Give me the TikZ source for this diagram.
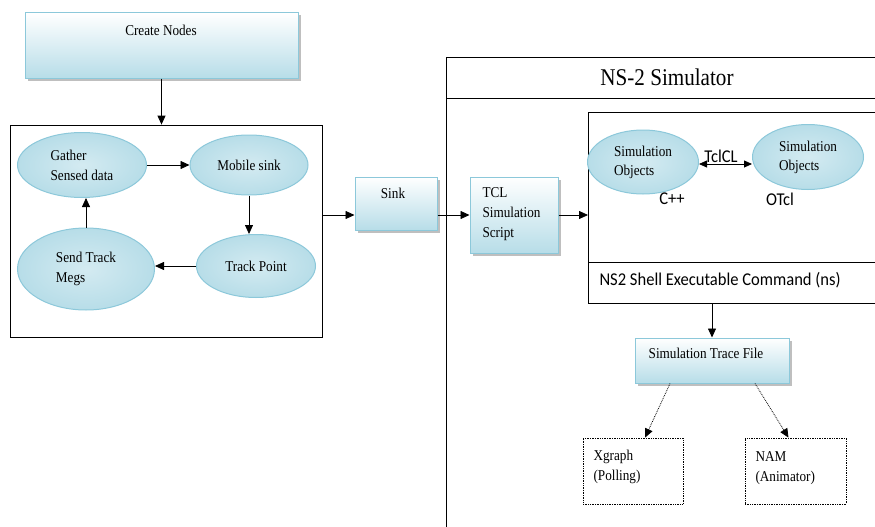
\documentclass[tikz,border=0pt]{standalone}
\usepackage{fontspec}
\setmainfont{Liberation Serif}[FakeStretch=0.88]
\newfontfamily\calfont{Carlito}[FakeStretch=0.92]
\usepackage{tikz}
\usetikzlibrary{positioning,calc,shapes.geometric,shadows,arrows.meta}
\definecolor{boxblue}{RGB}{183,221,232}
\definecolor{edgeblue}{RGB}{140,200,218}

\begin{document}
\begin{tikzpicture}[x=1pt,y=-1pt,
  every node/.style={font=\rmfamily\fontsize{15}{20}\selectfont},
  bluebox/.style={rectangle, draw=edgeblue, line width=1pt, top color=white, bottom color=boxblue,
    drop shadow={shadow xshift=2.5pt, shadow yshift=-2.5pt, fill=black!25, opacity=1}, inner sep=0pt},
  blob/.style={ellipse, draw=edgeblue, line width=1pt, inner color=white!40!boxblue, outer color=boxblue,
    inner sep=0pt, align=left},
  dotbox/.style={rectangle, draw, densely dotted, line width=0.7pt, inner sep=0pt},
  sans/.style={font=\calfont\fontsize{18}{20}\selectfont},
  arr/.style={-{Triangle[length=9pt,width=8pt]}, line width=0.8pt}]
  \useasboundingbox (0,0) rectangle (875,527);

  % left part
  \node[bluebox, minimum width=273, minimum height=65] (create) at (161.5,45.5) {};
  \node (createtxt) at (161,30) {Create Nodes};
  \node[draw, line width=0.8pt, minimum width=312, minimum height=212] (cluster) at (166,231) {};

  \node[blob, minimum width=129, minimum height=65] (gather) at (82,165) {Gather\\Sensed data};
  \node[blob, minimum width=118, minimum height=60] (mobile) at (249,165) {Mobile sink};
  \node[blob, minimum width=119, minimum height=63] (track) at (256,266) {Track Point};
  \node[blob, minimum width=137, minimum height=82] (send) at (86,269) {Send Track\\Megs};

  \node[bluebox, minimum width=82, minimum height=53] (sink) at (396,203.5) {};
  \node (sinktxt) at (393,193) {Sink};
  \node[bluebox, minimum width=88, minimum height=76] (tcl) at (514,215) {};
  \node[align=left, anchor=west] (tcltxt) at (479,214) {TCL\\Simulation\\Script};

  % NS-2 part
  \node[draw, line width=0.8pt, anchor=north west, minimum width=440, minimum height=480] (ns) at (446,57) {};
  \draw[line width=0.8pt] (ns.west |- 0,98) -- (ns.east |- 0,98);
  \node[font=\rmfamily\fontsize{24}{26}\selectfont] (nstitle) at (667,77) {NS-2 Simulator};

  \node[draw, line width=0.8pt, anchor=north west, minimum width=300, minimum height=191] (inner) at (588,112) {};
  \draw[line width=0.8pt] (inner.west |- 0,262) -- (inner.east |- 0,262);
  \node[sans, anchor=west] (shell) at (596,280) {NS2 Shell Executable Command (ns)};

  \node[blob, minimum width=111, minimum height=64, font=\rmfamily\fontsize{15}{19}\selectfont] (cppobj) at (643,162) {Simulation\\Objects};
  \node[blob, minimum width=111, minimum height=65, font=\rmfamily\fontsize{15}{19}\selectfont] (otclobj) at (808,157) {Simulation\\Objects};
  \node[sans] (tclcl) at (721,156) {TclCL};
  \node[sans] (cpplbl) at (672,199) {C++};
  \node[sans] (otcllbl) at (780,199) {OTcl};

  \node[bluebox, minimum width=154, minimum height=45] (trace) at (712,360.5) {};
  \node (tracetxt) at (706,353) {Simulation Trace File};
  \node[dotbox, minimum width=100, minimum height=66] (xgraph) at (633,471) {};
  \node[align=left, anchor=west] (xgraphtxt) at (590,467) {Xgraph\\(Polling)};
  \node[dotbox, minimum width=101, minimum height=66] (nam) at (795.5,471) {};
  \node[align=left, anchor=west] (namtxt) at (752,468) {NAM\\(Animator)};

  % connectors
  \draw[arr] (create.south) -- (create.south |- cluster.north);
  \draw[arr] (gather.east) -- (mobile.west);
  \draw[arr] (mobile.south) -- (mobile.south |- track.north);
  \draw[arr] (track.west) -- (track.west -| send.east);
  \draw[arr] (send.north) -- (send.north |- gather.south);
  \draw[arr] (cluster.east |- tcl.west) -- (sink.west |- tcl.west);
  \draw[arr] (sink.east |- tcl.west) -- (tcl.west);
  \draw[arr] (tcl.east) -- (inner.west |- tcl.east);
  \draw[{Triangle[length=8pt,width=7pt]}-{Triangle[length=8pt,width=7pt]}, line width=0.8pt]
    ($(cppobj.east)+(0,2)$) -- ($(otclobj.west)+(0,7)$);
  \draw[arr] (trace.north |- inner.south) -- (trace.north);
  \draw[arr, densely dotted] ($(trace.south)+(-42,0)$) -- ($(xgraph.north)+(12,0)$);
  \draw[arr, densely dotted] ($(trace.south)+(43,0)$) -- ($(nam.north)+(-7,0)$);
\end{tikzpicture}
\end{document}
